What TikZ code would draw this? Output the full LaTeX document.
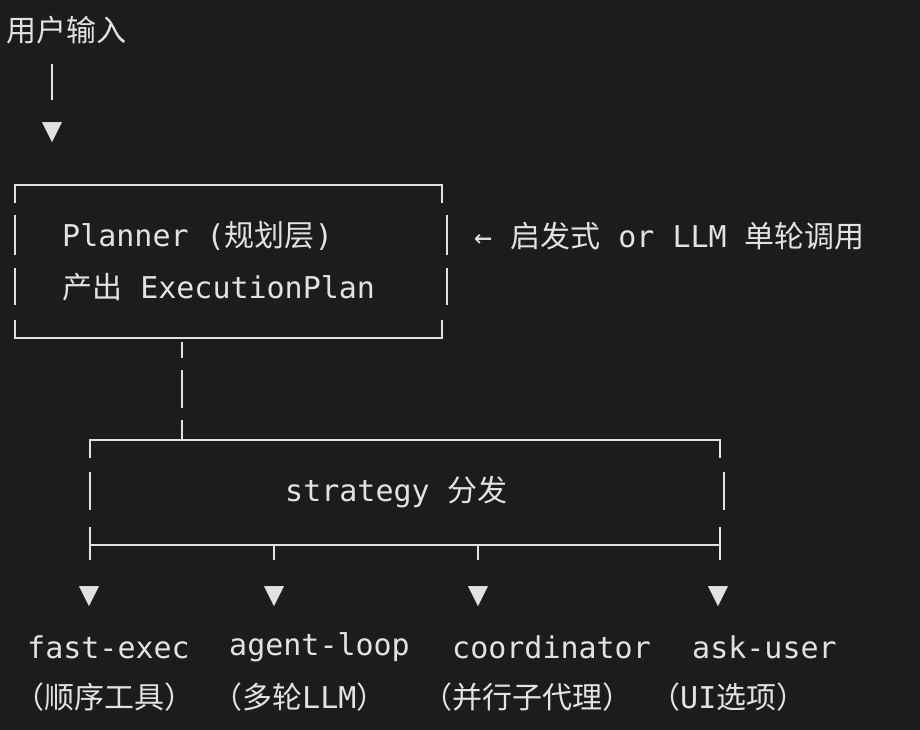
\documentclass[tikz,border=0pt]{standalone}
\usepackage{fontspec}
\setmonofont{DejaVu Sans Mono}
\newfontfamily\cjk{Noto Sans CJK SC}
\definecolor{bg}{HTML}{1C1C1C}
\definecolor{fg}{HTML}{E2E2E2}
\begin{document}
\begin{tikzpicture}[x=1pt,y=-1pt,
  t/.style={anchor=west,inner sep=0pt,text=fg,font=\ttfamily\fontsize{30}{32}\selectfont},
  ar/.style={inner sep=0pt,text=fg,font=\ttfamily\fontsize{34}{36}\selectfont},
  ln/.style={draw=fg,line width=2.2pt}]
\fill[bg] (0,0) rectangle (920,730);
\useasboundingbox (0,0) rectangle (920,730);
\node[t] (in) at (6,30) {\cjk 用户输入};
\coordinate (a1) at (52,64); \coordinate (a2) at (52,100);
\draw[ln] (a1) -- (a2);
\node[ar] (v0) at (52,133) {▼};
% planner box
\draw[ln] (15,203) -- (15,185) -- (442,185) -- (442,203);
\draw[ln] (15,320) -- (15,338) -- (442,338) -- (442,320);
\draw[ln] (15,215) -- (15,255) (15,268) -- (15,305);
\draw[ln] (447,215) -- (447,255) (447,268) -- (447,305);
\node[t] (p1) at (62,236) {Planner ({\cjk 规划层})};
\node[t] (p2) at (62,287) {{\cjk 产出} ExecutionPlan};
\node[t] (note) at (474,236) {← {\cjk 启发式} or LLM {\cjk 单轮调用}};
% stem
\draw[ln] (182,342) -- (182,358) (182,370) -- (182,408) (182,420) -- (182,440);
% strategy box
\draw[ln] (90,458) -- (90,440) -- (720,440) -- (720,458);
\draw[ln] (90,472) -- (90,510) (724,472) -- (724,510);
\draw[ln] (90,527) -- (90,560) (90,545) -- (720,545) (720,527) -- (720,560);
\draw[ln] (274,545) -- (274,560) (478,545) -- (478,560);
\node[t] (s) at (285,492) {strategy {\cjk 分发}};
\foreach \x/\n in {89/v1,274/v2,478/v3,718/v4} \node[ar] (\n) at (\x,597) {▼};
\node[t] (l1) at (27,647) {fast-exec};
\node[t] (l2) at (229,647) {agent-loop};
\node[t] (l3) at (452,647) {coordinator};
\node[t] (l4) at (692,647) {ask-user};
\node[t] (m1) at (14,697) {\cjk （顺序工具）};
\node[t] (m2) at (212,697) {{\cjk （多轮}LLM{\cjk ）}};
\node[t] (m3) at (422,697) {\cjk （并行子代理）};
\node[t] (m4) at (650,697) {{\cjk （}UI{\cjk 选项）}};
\end{tikzpicture}
\end{document}
